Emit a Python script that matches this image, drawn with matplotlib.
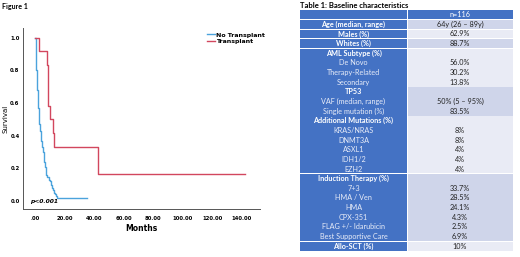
import matplotlib
matplotlib.use("Agg")
import matplotlib.pyplot as plt
from matplotlib.patches import Rectangle

# ----------DATA----------
# Kaplan-Meier curves (months, survival)
no_tx_months = [0, 0.5, 0.8, 1.0, 1.3, 1.6, 2.0, 2.3, 2.6, 3.0, 3.4, 3.8, 4.3, 4.8,
                5.3, 5.8, 6.3, 6.8, 7.3, 7.8, 8.5, 9.2, 10.0, 10.8, 11.5, 12.2,
                12.9, 13.6, 14.3, 15.0, 35.0]
no_tx_surv = [1.0, 0.93, 0.86, 0.80, 0.74, 0.68, 0.62, 0.57, 0.52, 0.47, 0.43, 0.40,
              0.37, 0.33, 0.30, 0.27, 0.24, 0.21, 0.18, 0.16, 0.15, 0.13, 0.12, 0.10,
              0.08, 0.07, 0.05, 0.04, 0.03, 0.02, 0.02]

tx_months = [0, 3.0, 8.0, 8.6, 10.0, 12.0, 12.6, 42.5, 142.0]
tx_surv = [1.0, 0.917, 0.833, 0.583, 0.5, 0.417, 0.333, 0.167, 0.167]

x_ticks = [0, 20, 40, 60, 80, 100, 120, 140]
x_tick_labels = [".00", "20.00", "40.00", "60.00", "80.00", "100.00", "120.00", "140.00"]
y_ticks = [0.0, 0.2, 0.4, 0.6, 0.8, 1.0]

# table rows: title, sub rows, values
table_title = "Table 1: Baseline characteristics"
header_value = "n=116"
row_titles = ["Age (median, range)", "Males (%)", "Whites (%)", "AML Subtype (%)",
              "TP53", "Additional Mutations (%)", "Induction Therapy (%)", "Allo-SCT (%)"]
row_subs = [[], [], [], ["De Novo", "Therapy-Related", "Secondary"],
            ["VAF (median, range)", "Single mutation (%)"],
            ["KRAS/NRAS", "DNMT3A", "ASXL1", "IDH1/2", "EZH2"],
            ["7+3", "HMA / Ven", "HMA", "CPX-351", "FLAG +/- Idarubicin",
             "Best Supportive Care"], []]
row_values = [["64y (26 \u2013 89y)"], ["62.9%"], ["88.7%"], ["56.0%", "30.2%", "13.8%"],
              ["50% (5 \u2013 95%)", "83.5%"], ["8%", "8%", "4%", "4%", "4%"],
              ["33.7%", "28.5%", "24.1%", "4.3%", "2.5%", "6.9%"], ["10%"]]

BLUE = "#4472C4"
DARK = "#CFD5EA"
LIGHT = "#E9EBF5"

W, H = 520, 257
fig = plt.figure(figsize=(W / 100, H / 100), dpi=100)

fig.text(2 / W, 1 - 6 / H, "Figure 1", fontsize=5, fontweight="bold",
         va="center", ha="left", family="Lato")

# ----------KM PLOT----------
ax = fig.add_axes([23 / W, 1 - 209 / H, (260 - 23) / W, (209 - 28) / H])
ax.plot(no_tx_months, no_tx_surv, drawstyle="steps-post", color="#4BA3DC", lw=1.0,
        label="No Transplant")
ax.plot(tx_months, tx_surv, drawstyle="steps-post", color="#D2475E", lw=1.0,
        label="Transplant")
ax.set_xlim(-8.1, 152.5)
ax.set_ylim(-0.049, 1.06)
ax.set_xticks(x_ticks)
ax.set_xticklabels(x_tick_labels)
ax.set_yticks(y_ticks)
ax.set_yticklabels([f"{v:.1f}" for v in y_ticks])
ax.tick_params(axis="x", length=0, labelsize=3.8, pad=5)
ax.tick_params(axis="y", length=0, labelsize=3.8, pad=2.5)
for lab in ax.get_xticklabels() + ax.get_yticklabels():
    lab.set_fontweight("bold")
for s in ["top", "right"]:
    ax.spines[s].set_visible(False)
for s in ["left", "bottom"]:
    ax.spines[s].set_color("#555555")
    ax.spines[s].set_linewidth(0.7)
ax.set_xlabel("Months", fontsize=5.5, fontweight="bold", labelpad=2)
ax.set_ylabel("Survival", fontsize=5, labelpad=1.5)
ax.text(0.03, 0.025, "p<0.001", transform=ax.transAxes, fontsize=4.3,
        fontweight="bold", style="italic", va="bottom")
leg = ax.legend(loc="upper left", bbox_to_anchor=(204 / W, 1 - 29 / H),
                bbox_transform=fig.transFigure, frameon=False, fontsize=4.5,
                handlelength=1.2, handletextpad=0.2, labelspacing=0.2,
                borderpad=0)
for t in leg.get_texts():
    t.set_fontweight("bold")

# ----------TABLE----------
tx = fig.add_axes([0, 0, 1, 1])
tx.set_xlim(0, W)
tx.set_ylim(H, 0)
tx.axis("off")

tx.text(300, 6, table_title, fontsize=5.5, fontweight="bold", va="center",
        ha="left", family="Lato")

x0, xm, x1 = 300, 407, 513
line_h = 9.65
y = 10.2
fs = 5.2

# header row
tx.add_patch(Rectangle((x0, y), xm - x0, line_h - 0.8, color=BLUE, lw=0))
tx.add_patch(Rectangle((xm + 0.8, y), x1 - xm - 0.8, line_h - 0.8, color=BLUE, lw=0))
tx.text((xm + x1) / 2, y + line_h / 2 - 0.4, header_value, color="white", fontsize=fs,
        ha="center", va="center", family="Lato")
y += line_h

for i, (title, subs, vals) in enumerate(zip(row_titles, row_subs, row_values)):
    n = 1 + len(subs)
    h = n * line_h
    shade = DARK if i % 2 == 0 else LIGHT
    tx.add_patch(Rectangle((x0, y), xm - x0, h - 0.8, color=BLUE, lw=0))
    tx.add_patch(Rectangle((xm + 0.8, y), x1 - xm - 0.8, h - 0.8, color=shade, lw=0))
    tx.text((x0 + xm) / 2, y + line_h / 2 - 0.4, title, color="white", fontsize=fs,
            fontweight="bold", ha="center", va="center", family="Lato")
    for k, sub in enumerate(subs):
        tx.text((x0 + xm) / 2, y + (k + 1.5) * line_h - 0.4, sub, color="#E8ECF8",
                fontsize=fs, ha="center", va="center", family="Lato")
    start = 0 if not subs else 1
    for k, v in enumerate(vals):
        tx.text((xm + x1) / 2, y + (k + start + 0.5) * line_h - 0.4, v, color="#222222",
                fontsize=fs, ha="center", va="center", family="Lato")
    y += h

fig.savefig("out.png", dpi=100)
